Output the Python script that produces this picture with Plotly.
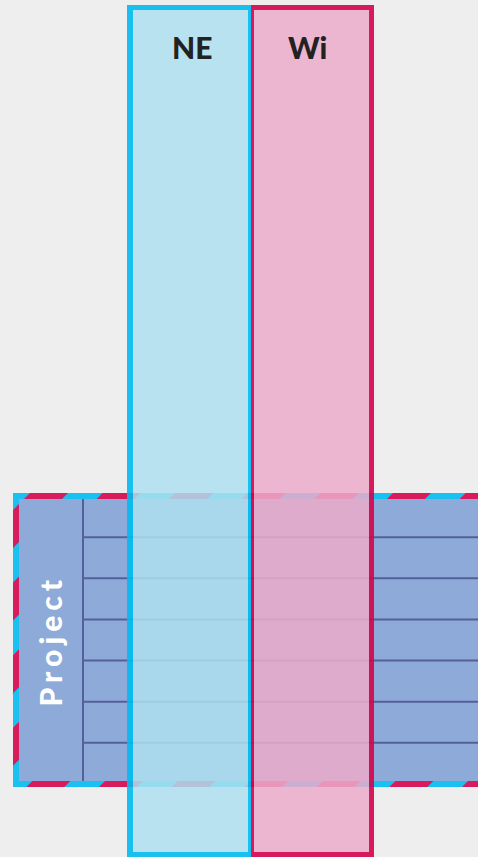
import plotly.graph_objects as go

# ---- content ----
columns = ["NE", "Wi"]
row_labels = ["Project"]
sub_rows = 7  # bands inside the "Project" row

# ---- styling / layout constants (pixel units of the 478x857 canvas) ----
W, H = 478, 857
BG = "#eeeeee"
col_edges = [127, 251, 374]           # outer x-edges of the columns
col_top, col_bottom = 5, 857
col_line = ["#02bbf0", "#d5044c"]     # border colours (drawn at LINE_OP)
col_fill = ["#aedfee", "#ecacca"]     # fill colours (drawn at FILL_OP)
label_dx = [3, -5]                    # nudge of the column titles
LINE_OP, FILL_OP = 0.9, 0.85
row_box = dict(x0=13, x1=500, y0=493, y1=787)
row_border = 6
row_fill = "#8eaad8"
grid_color = "#55609a"
label_w = 70                          # width of the label strip
stripe_a, stripe_b = "#d81b5c", "#1ac0f0"
stripe_period, stripe_w, stripe_phase = 72.6, 34.6, 561

shapes = []


def rect(x0, y0, x1, y1, fill, opacity=1.0):
    shapes.append(dict(type="rect", xref="x", yref="y", x0=x0, y0=y0, x1=x1, y1=y1,
                       fillcolor=fill, line=dict(width=0), opacity=opacity, layer="above"))


def line(x0, y0, x1, y1, color, width, opacity=1.0):
    shapes.append(dict(type="line", xref="x", yref="y", x0=x0, y0=y0, x1=x1, y1=y1,
                       line=dict(color=color, width=width), opacity=opacity, layer="above"))


def clip_x(poly, xmin, xmax):
    def clip(pts, inside, inter):
        out = []
        n = len(pts)
        for i in range(n):
            p, q = pts[i], pts[(i + 1) % n]
            if inside(q):
                if not inside(p):
                    out.append(inter(p, q))
                out.append(q)
            elif inside(p):
                out.append(inter(p, q))
        return out

    def ix(xv):
        def f(p, q):
            t = (xv - p[0]) / (q[0] - p[0])
            return (xv, p[1] + t * (q[1] - p[1]))
        return f

    pts = clip(poly, lambda p: p[0] >= xmin, ix(xmin))
    if pts:
        pts = clip(pts, lambda p: p[0] <= xmax, ix(xmax))
    return pts


# ---- row: striped border ----
bx0, bx1, by0, by1 = row_box["x0"], row_box["x1"], row_box["y0"], row_box["y1"]
rect(bx0, by0, bx1, by1, stripe_a)
k = -2
while True:
    c1 = stripe_phase + k * stripe_period
    c2 = c1 + stripe_w
    if c1 > bx1 + by1:
        break
    poly = [(c1 - by0, by0), (c2 - by0, by0), (c2 - by1, by1), (c1 - by1, by1)]
    pts = clip_x(poly, bx0, bx1)
    if len(pts) >= 3:
        path = "M " + " L ".join(f"{x:.2f},{y:.2f}" for x, y in pts) + " Z"
        shapes.append(dict(type="path", xref="x", yref="y", path=path,
                           fillcolor=stripe_b, line=dict(width=0), layer="above"))
    k += 1

# row body
rect(bx0 + row_border, by0 + row_border, bx1 - row_border, by1 - row_border, row_fill)
mid_top, mid_bot = by0 + row_border / 2, by1 - row_border / 2
lab_x = bx0 + row_border + label_w - 6
line(lab_x, by0 + row_border, lab_x, by1 - row_border, grid_color, 2)
band = (mid_bot - mid_top) / sub_rows
for i in range(1, sub_rows):
    yy = mid_top + i * band
    line(lab_x, yy, bx1, yy, grid_color, 2)

# ---- columns (semi-transparent, drawn over the row) ----
line_w = [(6, 3), (3, 5)]   # (left, right) border widths
tb_w = 5
for i, name in enumerate(columns):
    x0, x1 = col_edges[i], col_edges[i + 1]
    lw, rw = line_w[i]
    rect(x0 + lw, col_top + tb_w, x1 - rw, col_bottom - tb_w, col_fill[i], FILL_OP)
    c = col_line[i]
    line(x0 + lw / 2, col_top, x0 + lw / 2, col_bottom, c, lw, LINE_OP)
    line(x1 - rw / 2, col_top, x1 - rw / 2, col_bottom, c, rw, LINE_OP)
    line(x0 + lw, col_top + tb_w / 2, x1 - rw, col_top + tb_w / 2, c, tb_w, LINE_OP)
    line(x0 + lw, col_bottom - tb_w / 2, x1 - rw, col_bottom - tb_w / 2, c, tb_w, LINE_OP)

annotations = []
for i, name in enumerate(columns):
    annotations.append(dict(x=(col_edges[i] + col_edges[i + 1]) / 2 + label_dx[i], y=47,
                            xref="x", yref="y", text=name, showarrow=False,
                            font=dict(family="Lato", size=30, color="#222222", weight=900),
                            xanchor="center", yanchor="middle"))
annotations.append(dict(x=(bx0 + row_border + lab_x) / 2 - 1, y=(by0 + by1) / 2 + 1, xref="x", yref="y",
                        text=row_labels[0], textangle=-90, showarrow=False,
                        font=dict(family="Lato", size=30, color="#ffffff", weight=900),
                        xanchor="center", yanchor="middle"))

# invisible trace so the axes exist
fig = go.Figure(go.Scatter(x=[0, W], y=[0, H], mode="markers", marker=dict(opacity=0),
                           hoverinfo="skip", showlegend=False))
fig.update_layout(width=W, height=H, margin=dict(l=0, r=0, t=0, b=0),
                  paper_bgcolor=BG, plot_bgcolor=BG, shapes=shapes, annotations=annotations,
                  xaxis=dict(range=[0, W], visible=False, fixedrange=True),
                  yaxis=dict(range=[H, 0], visible=False, fixedrange=True),
                  showlegend=False)

post = (
    "document.body.style.margin='0';"
    "document.body.style.background='%s';"
    "document.querySelectorAll('.annotation-text').forEach(function(t){"
    "if(t.textContent==='%s'){t.style.letterSpacing='5px';}});" % (BG, row_labels[0])
)
fig.write_html("out.html", config={"displayModeBar": False}, post_script=post)
